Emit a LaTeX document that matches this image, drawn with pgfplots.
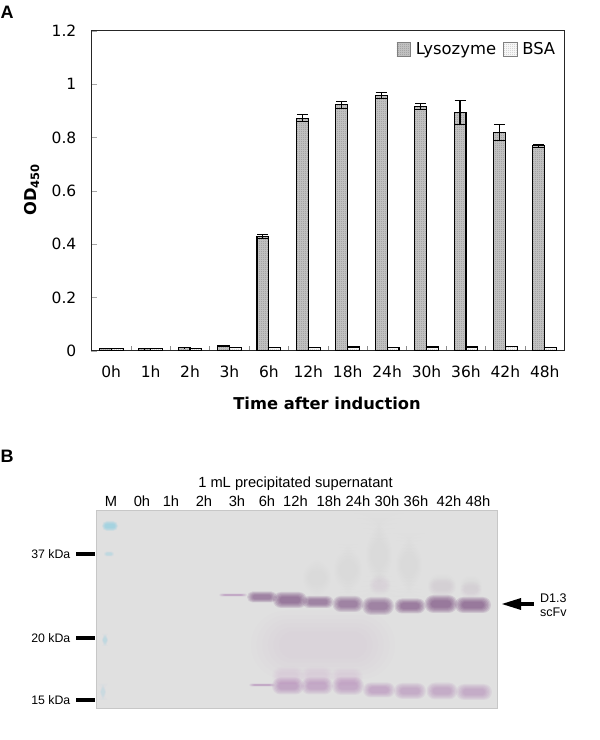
\documentclass[border=0pt]{standalone}
\usepackage{fontspec}
\setmainfont{DejaVu Sans}
\newfontfamily\arial{Liberation Sans}
\usepackage{pgfplots}
\pgfplotsset{compat=1.18}
\usetikzlibrary{patterns}
\pgfdeclarepatternformonly{finecheck}{\pgfqpoint{0pt}{0pt}}{\pgfqpoint{1.6pt}{1.6pt}}{\pgfqpoint{1.6pt}{1.6pt}}{
  \pgfpathrectangle{\pgfqpoint{0pt}{0pt}}{\pgfqpoint{.8pt}{.8pt}}
  \pgfpathrectangle{\pgfqpoint{.8pt}{.8pt}}{\pgfqpoint{.8pt}{.8pt}}
  \pgfusepath{fill}}
\definecolor{band}{RGB}{112,62,118}
\definecolor{bandl}{RGB}{165,105,170}
\definecolor{smear}{RGB}{205,160,205}
\definecolor{ladder}{RGB}{125,205,225}
% soft band: x, y, half width, half height, colour, opacity per layer
\newcommand{\blob}[6]{%
  \foreach \k in {1.0,0.88,0.76,0.64,0.52,0.40}{%
    \pgfmathsetmacro\rr{#4*\k}%
    \fill[color=#5,opacity=#6,rounded corners=\rr pt]
      ({#1-#3*(0.35+0.65*\k)},{#2-#4*\k}) rectangle ({#1+#3*(0.35+0.65*\k)},{#2+#4*\k});}}
\pgfplotstableread{
x  ly     lye
0  0.010  0.001
1  0.009  0.001
2  0.013  0.001
3  0.019  0.002
4  0.430  0.008
5  0.873  0.014
6  0.923  0.014
7  0.958  0.012
8  0.917  0.011
9  0.895  0.045
10 0.820  0.030
11 0.770  0.006
}\lyso
\pgfplotstableread{
x  y
0  0.010
1  0.010
2  0.011
3  0.012
4  0.014
5  0.012
6  0.015
7  0.012
8  0.015
9  0.015
10 0.016
11 0.014
}\bsa
\begin{document}
\begin{tikzpicture}[x=1pt,y=1pt]
\useasboundingbox (0,0) rectangle (600,740);
\begin{axis}[
  at={(91.5pt,389pt)},anchor=south west,
  scale only axis,width=473pt,height=320pt,
  xmin=-0.5,xmax=11.5,ymin=0,ymax=1.2,
  ybar=0pt,bar width=11.9pt,
  axis line style={line width=1pt,black!85},
  xtick={0,...,11},
  xticklabels={0h,1h,2h,3h,6h,12h,18h,24h,30h,36h,42h,48h},
  minor xtick={0.5,1.5,2.5,3.5,4.5,5.5,6.5,7.5,8.5,9.5,10.5},
  ytick={0,0.2,0.4,0.6,0.8,1,1.2},
  yticklabels={0,0.2,0.4,0.6,0.8,1,1.2},
  tick align=inside,tick pos=left,
  major tick length=6pt,minor tick length=5pt,
  xtick style={draw=none},
  minor x tick style={draw=black!45,line width=.7pt},
  ytick style={draw=black!35,line width=.7pt},
  ticklabel style={font=\fontsize{15.5}{18}\selectfont,inner sep=0pt},
  xticklabel style={yshift=-15pt},
  yticklabel style={xshift=-15pt},
  xlabel={Time after induction},
  ylabel={OD\raisebox{-2.5pt}{\fontsize{11.5}{12}\selectfont 450}},
  every axis x label/.style={at={(axis description cs:0.498,-0.1625)},anchor=center,font=\bfseries\fontsize{16.3}{19}\selectfont},
  every axis y label/.style={at={(axis description cs:-0.1258,0.503)},anchor=center,rotate=90,font=\bfseries\fontsize{16.3}{19}\selectfont},
  legend columns=2,
  legend style={draw=none,fill=none,at={(axis description cs:0.985,0.97)},anchor=north east,
    font=\fontsize{16.4}{18}\selectfont,inner sep=0pt,
    /tikz/every even column/.append style={column sep=5pt},
    /tikz/every odd column/.append style={column sep=3pt}},
  legend image code/.code={\draw[#1,draw=black!50,line width=.7pt] (0pt,-6.5pt) rectangle (13.5pt,7pt);},
  error bars/y dir=both,error bars/y explicit,
]
\addplot[draw=black,line width=1.1pt,fill=black!22,
  postaction={pattern=finecheck,pattern color=black!42},
  error bars/error bar style={line width=1.1pt,black},
  error bars/error mark options={rotate=90,mark size=5.5pt,line width=1.1pt,black}]
  table[x=x,y=ly,y error=lye]{\lyso};
\addlegendentry{Lysozyme}
\addplot[draw=black,line width=1.1pt,fill=white,
  postaction={pattern=finecheck,pattern color=black!25},
  error bars/y dir=none]
  table[x=x,y=y]{\bsa};
\addlegendentry{BSA}
\end{axis}
\begin{scope}[y=-1pt,shift={(0pt,740pt)}]
\node[font=\arial\bfseries\fontsize{18}{20}\selectfont,anchor=west,inner sep=0] at (0.5,12) {A};
\node[font=\arial\bfseries\fontsize{18}{20}\selectfont,anchor=west,inner sep=0] at (0.5,456) {B};
% gel
\fill[black!12] (96,511) rectangle (497,709);
% smears
\blob{323}{645}{72}{34}{smear}{.018}
\foreach \a/\b/\c/\d in {317/14/578/18,348/14/570/26,379/13/555/42,409/13/565/32,442/14/585/11,471/11/586/10}{
  \blob{\a}{\c}{\b}{\d}{smear}{.012}}
\blob{380}{585}{11}{10}{smear}{.02}
\blob{442}{587}{14}{9}{smear}{.02}
\blob{471}{590}{11}{8}{smear}{.018}
\foreach \a/\b in {288/676,317/676,347/677}{\blob{\a}{\b}{16}{9}{smear}{.04}}
% markers
\blob{110}{526}{8}{5}{ladder}{.13}
\blob{109}{554}{5}{2.5}{ladder}{.06}
\blob{105}{640}{3}{6}{ladder}{.06}
\blob{103}{692}{3}{8}{ladder}{.035}
% upper band
\blob{233}{595}{14}{1.4}{bandl}{.10}
\blob{262}{597}{15}{5.5}{band}{.13}
\blob{290}{600}{17}{8}{band}{.15}
\blob{318}{602}{15.5}{6}{band}{.13}
\blob{348}{604}{15.5}{8}{band}{.13}
\blob{378}{606}{16}{9}{band}{.13}
\blob{410}{606}{15.5}{7.5}{band}{.14}
\blob{441}{604}{16.5}{9}{band}{.15}
\blob{473}{605}{18}{8}{band}{.15}
% lower band
\blob{262}{685}{13}{1.4}{bandl}{.10}
\blob{288}{686}{16}{8.5}{bandl}{.10}
\blob{317}{686}{16}{8.5}{bandl}{.09}
\blob{348}{686}{16}{9}{bandl}{.09}
\blob{379}{690}{16}{7.5}{bandl}{.09}
\blob{410}{691}{16}{8}{bandl}{.085}
\blob{442}{691}{15.5}{8.5}{bandl}{.085}
\blob{474}{692}{18}{8}{bandl}{.085}
\draw[black!22,line width=1pt] (96,511) rectangle (497,709);
% labels
\begin{scope}[every node/.style={font=\arial\fontsize{14.7}{17}\selectfont,inner sep=0}]
\node at (295.5,484) {1 mL precipitated supernatant};
\foreach \x/\t in {111/M,142/0h,171/1h,204/2h,237/3h,267/6h,295.5/12h,329/18h,358/24h,387/30h,416/36h,449/42h,478/48h}{
  \node at (\x,501) {\t};}
\end{scope}
\begin{scope}[every node/.style={font=\arial\fontsize{12.3}{14}\selectfont,inner sep=0,anchor=east}]
\node at (70.5,554) {37 kDa};
\node at (70.5,638) {20 kDa};
\node at (70.5,700) {15 kDa};
\end{scope}
\foreach \y in {554,638,700}{\fill[black] (76,\y-2) rectangle (95,\y+2);}
\fill[black] (534,602) rectangle (520,606);
\fill[black] (502,604) -- (521,598) -- (521,610) -- cycle;
\node[font=\arial\fontsize{12.5}{14}\selectfont,anchor=west,inner sep=0] at (540,598) {D1.3};
\node[font=\arial\fontsize{12.5}{14}\selectfont,anchor=west,inner sep=0] at (540,612) {scFv};
\end{scope}
\end{tikzpicture}
\end{document}
